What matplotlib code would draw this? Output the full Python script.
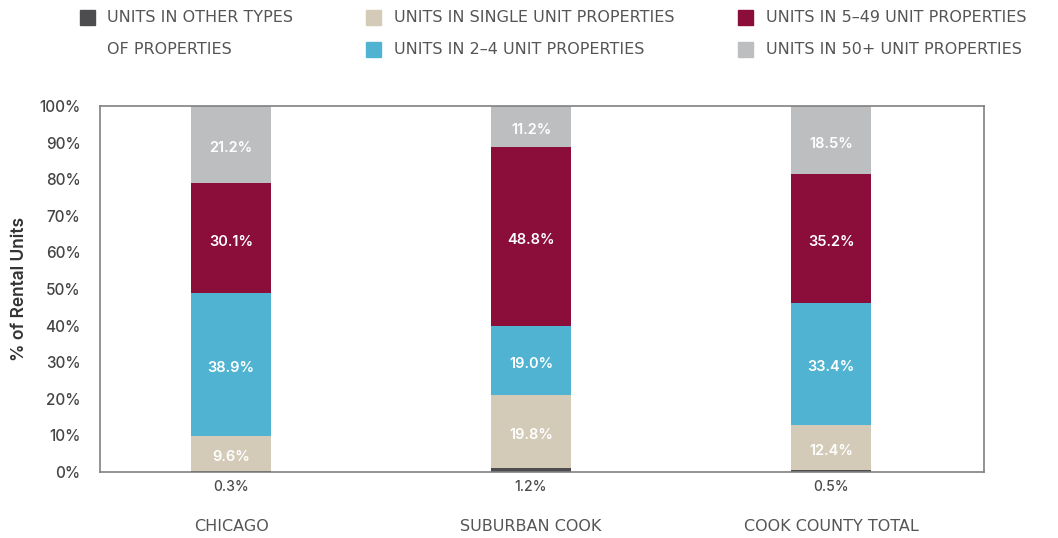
import matplotlib
matplotlib.use("Agg")
import matplotlib.pyplot as plt
from matplotlib.patches import Rectangle

categories = ["CHICAGO", "SUBURBAN COOK", "COOK COUNTY TOTAL"]
series_names = ["UNITS IN OTHER TYPES\nOF PROPERTIES", "UNITS IN SINGLE UNIT PROPERTIES",
                "UNITS IN 2\u20134 UNIT PROPERTIES", "UNITS IN 5\u201349 UNIT PROPERTIES",
                "UNITS IN 50+ UNIT PROPERTIES"]
other = [0.3, 1.2, 0.5]
single = [9.6, 19.8, 12.4]
two_four = [38.9, 19.0, 33.4]
five_49 = [30.1, 48.8, 35.2]
fifty_plus = [21.2, 11.2, 18.5]
yticks = [0, 10, 20, 30, 40, 50, 60, 70, 80, 90, 100]

colors = ["#4d4d4f", "#d3cbb8", "#4fb3d1", "#8b0e3a", "#bdbec0"]
series = [other, single, two_four, five_49, fifty_plus]

NUMFONT = ['Inter', 'DejaVu Sans']
CAPFONT = 'DejaVu Sans'
plt.rcParams['font.family'] = NUMFONT

fig = plt.figure(figsize=(10.58, 5.38), dpi=100)
ax = fig.add_axes([100/1058, 1-472/538, (984-100)/1058, (472-106)/538])

x = list(range(len(categories)))
bottoms = [0.0]*len(categories)
for si, (vals, col) in enumerate(zip(series, colors)):
    ax.bar(x, vals, bottom=bottoms, width=0.267, color=col, linewidth=0)
    for i, v in enumerate(vals):
        if si == 0:
            ax.text(x[i], -2.3, f"{v:.1f}%", ha="center", va="top", fontsize=10,
                    color="#4a4a4a", fontweight="medium")
        else:
            ax.text(x[i], bottoms[i] + v/2 - 1.0, f"{v:.1f}%", ha="center", va="center",
                    fontsize=10.5, color="white", fontweight="semibold")
    bottoms = [b + v for b, v in zip(bottoms, vals)]

ax.set_xlim(-0.437, 2.51)
ax.set_ylim(0, 100)
ax.set_yticks(yticks)
ax.set_yticklabels([f"{t}%" for t in yticks], fontsize=11, color="#444444", fontweight="medium")
ax.tick_params(axis="y", length=0, pad=14)
ax.set_xticks(x)
ax.set_xticklabels(categories, fontsize=11.5, color="#555555", family=CAPFONT)
ax.tick_params(axis="x", length=0, pad=34)
for s in ax.spines.values():
    s.set_color("#808080")
    s.set_linewidth(1.2)
ax.set_ylabel("% of Rental Units", fontsize=12.5, color="#333333", fontweight="semibold", labelpad=8)

# legend
leg_pos = [(80, 17, 107), (366, 17, 394), (366, 49, 394), (738, 17, 766), (738, 49, 766)]
for (lx, ly, tx), name, col in zip(leg_pos, series_names, colors):
    fig.patches.append(Rectangle((lx/1058, 1-(ly+8)/538), 15/1058, 15/538,
                                 transform=fig.transFigure, color=col, figure=fig))
    lines = name.split("\n")
    for k, ln in enumerate(lines):
        fig.text(tx/1058, 1-(ly+32*k)/538, ln, ha="left", va="center", fontsize=11.5,
                 color="#555555", family=CAPFONT)

fig.savefig("out.png", dpi=100)
